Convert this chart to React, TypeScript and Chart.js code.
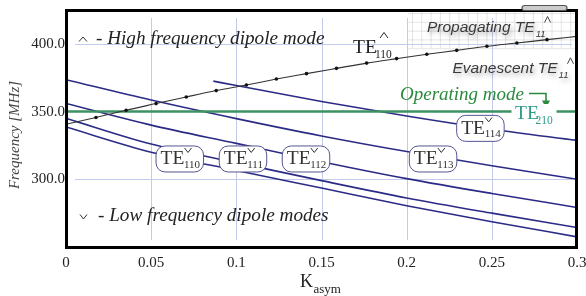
import React, { useEffect, useRef } from 'react';
import { Chart, registerables } from 'chart.js';
Chart.register(...registerables);

// ---- data ----
const kTicks = [0, 0.05, 0.1, 0.15, 0.2, 0.25, 0.3];
const freqTicks = [300, 350, 400];
const kSamples = [0, 0.05, 0.1, 0.15, 0.2, 0.25, 0.3];
const te113Low = [373.5, 358.5, 344.8, 332, 320.5, 310, 300];
const te112Low = [356, 340, 326.5, 313, 300.5, 289.5, 279.2];
const te110Low = [345, 326, 312.3, 299, 286.2, 275, 264.4];
const te111Low = [338.6, 320, 306.5, 293.5, 280.5, 268.7, 257.5];
const te114K = [0.0865, 0.1, 0.15, 0.2, 0.25, 0.3];
const te114Low = [372.5, 369.2, 357.5, 346.7, 337, 328.7];
const te110HighK = [0, 0.0176, 0.0353, 0.0529, 0.0706, 0.0882, 0.1059, 0.1235, 0.1412, 0.1588, 0.1765, 0.1941, 0.2118, 0.2294, 0.2471, 0.2647, 0.2824, 0.3];
const te110High = [340.6, 345.6, 351, 355.9, 360.8, 365.5, 369.6, 374, 378, 381.9, 385.8, 389.1, 392.3, 395.2, 398.2, 400.6, 403.1, 405.5];
const operatingFreq = 350;
const lowLabelSubs = ['110', '111', '112', '113', '114'];
const lowLabelK = [0.0668, 0.1039, 0.1409, 0.2155, 0.2433];
const lowLabelF = [315, 315, 315, 315, 337.6];

const serif = '"Liberation Serif", "Times New Roman", serif';
const sans = '"Liberation Sans", Arial, sans-serif';

const pts = (xs: number[], ys: number[]) => xs.map((x, i) => ({ x, y: ys[i] }));

function rr(ctx: CanvasRenderingContext2D, x: number, y: number, w: number, h: number, r: number) {
  ctx.beginPath();
  ctx.moveTo(x + r, y);
  ctx.lineTo(x + w - r, y);
  ctx.arcTo(x + w, y, x + w, y + r, r);
  ctx.lineTo(x + w, y + h - r);
  ctx.arcTo(x + w, y + h, x + w - r, y + h, r);
  ctx.lineTo(x + r, y + h);
  ctx.arcTo(x, y + h, x, y + h - r, r);
  ctx.lineTo(x, y + r);
  ctx.arcTo(x, y, x + r, y, r);
  ctx.closePath();
}

function caret(ctx: CanvasRenderingContext2D, cx: number, top: number, h: number, w: number, up: boolean, color: string, lw = 1) {
  ctx.save();
  ctx.beginPath();
  if (up) {
    ctx.moveTo(cx - w / 2, top + h); ctx.lineTo(cx, top); ctx.lineTo(cx + w / 2, top + h);
  } else {
    ctx.moveTo(cx - w / 2, top); ctx.lineTo(cx, top + h); ctx.lineTo(cx + w / 2, top);
  }
  ctx.strokeStyle = color; ctx.lineWidth = lw; ctx.stroke();
  ctx.restore();
}

const overlay = {
  id: 'overlay',
  beforeDatasetsDraw(chart: any) {
    const ctx: CanvasRenderingContext2D = chart.ctx;
    const xs = chart.scales.x, ys = chart.scales.y;
    const a = chart.chartArea;
    ctx.save();
    // top-right hatch grid
    ctx.strokeStyle = 'rgba(110,110,110,0.18)';
    ctx.lineWidth = 1;
    for (let x = 412.5; x < a.right; x += 9.3) {
      ctx.beginPath(); ctx.moveTo(x, a.top); ctx.lineTo(x, 48); ctx.stroke();
    }
    for (let y = 13.5; y < 49; y += 8.8) {
      ctx.beginPath(); ctx.moveTo(408, y); ctx.lineTo(a.right, y); ctx.stroke();
    }
    // grid
    ctx.strokeStyle = '#c4cae9';
    ctx.lineWidth = 1;
    kTicks.slice(1, -1).forEach((k) => {
      const px = Math.round(xs.getPixelForValue(k)) + 0.5;
      ctx.beginPath(); ctx.moveTo(px, 18); ctx.lineTo(px, 240); ctx.stroke();
    });
    [300, 400].forEach((f) => {
      const py = Math.round(ys.getPixelForValue(f)) + 0.5;
      ctx.beginPath(); ctx.moveTo(75, py); ctx.lineTo(572, py); ctx.stroke();
    });
    ctx.restore();
  },
  afterDatasetsDraw(chart: any) {
    const ctx: CanvasRenderingContext2D = chart.ctx;
    const xs = chart.scales.x, ys = chart.scales.y;
    const a = chart.chartArea;
    ctx.save();
    ctx.textAlign = 'left';
    ctx.textBaseline = 'alphabetic';

    // frame
    ctx.strokeStyle = '#000';
    ctx.lineWidth = 3;
    ctx.strokeRect(a.left + 0.5, a.top + 0.5, a.right - a.left - 1, a.bottom - a.top);
    // tab on top
    rr(ctx, 522, 5.5, 45, 5, 2.5);
    ctx.fillStyle = '#ccc'; ctx.fill();
    ctx.strokeStyle = '#555'; ctx.lineWidth = 1.2; ctx.stroke();

    // low-frequency mode boxes
    lowLabelSubs.forEach((sub, i) => {
      const cx = xs.getPixelForValue(lowLabelK[i]);
      const cy = ys.getPixelForValue(lowLabelF[i]);
      const w = 47.5, h = 26, L = cx - w / 2, T = cy - h / 2;
      rr(ctx, L, T, w, h, 9);
      ctx.fillStyle = '#fff'; ctx.fill();
      ctx.strokeStyle = '#55558f'; ctx.lineWidth = 1; ctx.stroke();
      ctx.fillStyle = '#333';
      ctx.font = `19.5px ${serif}`;
      ctx.fillText('TE', L + 4.5, T + 18.5);
      ctx.font = `11px ${serif}`;
      ctx.fillText(sub, L + 28, T + 22);
      caret(ctx, L + 32, T + 2, 4.5, 7, false, '#333', 1);
    });

    // high / low legend texts
    ctx.fillStyle = '#222';
    ctx.font = `italic 19.2px ${serif}`;
    ctx.fillText('- High frequency dipole mode', 96, 43.5);
    caret(ctx, 83, 37, 4.5, 8, true, '#333', 1);
    ctx.fillText('- Low frequency dipole modes', 98, 221);
    caret(ctx, 83.5, 214.5, 4.5, 7, false, '#333', 1);

    // TE110 high label
    ctx.fillStyle = '#222';
    ctx.font = `19.5px ${serif}`;
    ctx.fillText('TE', 353, 52.7);
    ctx.font = `11.5px ${serif}`;
    ctx.fillText('110', 375, 57.5);
    caret(ctx, 384, 32.5, 5.5, 8, true, '#222', 1);

    // Propagating / Evanescent
    const shadowText = (main: string, x: number, base: number) => {
      ctx.save();
      ctx.shadowColor = 'rgba(0,0,0,0.35)';
      ctx.shadowBlur = 5;
      ctx.shadowOffsetX = 2;
      ctx.shadowOffsetY = 3;
      ctx.fillStyle = '#3a3a3a';
      ctx.font = `italic 15.5px ${sans}`;
      ctx.fillText(main, x, base);
      const w = ctx.measureText(main).width;
      ctx.font = `italic 9.5px ${sans}`;
      ctx.fillText('11', x + w + 1, base + 4.5);
      const w2 = ctx.measureText('11').width;
      ctx.restore();
      caret(ctx, x + w + 1 + w2 + 2, base - 15.5, 6, 6, true, '#444', 1);
    };
    shadowText('Propagating TE', 427, 32);
    shadowText('Evanescent TE', 452.5, 73.3);

    // Operating mode
    const green = '#2b8a3d';
    ctx.fillStyle = green;
    ctx.font = `italic 19px ${serif}`;
    ctx.fillText('Operating mode', 400, 99.5);
    ctx.strokeStyle = green;
    ctx.lineWidth = 1.6;
    ctx.beginPath(); ctx.moveTo(529, 93.5); ctx.lineTo(546, 93.5); ctx.lineTo(546, 102); ctx.stroke();
    ctx.beginPath(); ctx.moveTo(542, 100.5); ctx.lineTo(550, 100.5); ctx.lineTo(546, 108); ctx.closePath();
    ctx.fillStyle = green; ctx.fill();

    // TE210
    ctx.fillStyle = '#fff';
    ctx.fillRect(511.5, 104, 45, 23);
    ctx.fillStyle = '#2e9a88';
    ctx.font = `19.5px ${serif}`;
    ctx.fillText('TE', 515, 119.3);
    ctx.font = `11.5px ${serif}`;
    ctx.fillText('210', 535.5, 123.5);

    // axis titles
    ctx.fillStyle = '#222';
    ctx.font = `18px ${serif}`;
    ctx.fillText('K', 300, 287);
    const kw = ctx.measureText('K').width;
    ctx.font = `13px ${serif}`;
    ctx.fillText('asym', 300 + kw + 0.5, 293);

    ctx.save();
    ctx.translate(15, 135);
    ctx.rotate(-Math.PI / 2);
    ctx.textAlign = 'center';
    ctx.textBaseline = 'middle';
    ctx.fillStyle = '#444';
    ctx.font = `italic 15px ${serif}`;
    ctx.fillText('Frequency [MHz]', 0, 0);
    ctx.restore();

    ctx.restore();
  },
};

export default function App() {
  const ref = useRef<HTMLCanvasElement | null>(null);
  useEffect(() => {
    if (!ref.current) return;
    const blue = '#2b2b86';
    const blueLine = (label: string, xs: number[], ys: number[]) => ({
      label,
      data: pts(xs, ys),
      borderColor: blue,
      borderWidth: 1.6,
      pointRadius: 0,
      cubicInterpolationMode: 'monotone' as const,
      fill: false,
    });
    const noPad = (s: any) => { s.paddingLeft = 0; s.paddingRight = 0; s.paddingTop = 0; s.paddingBottom = 0; };
    const chart = new Chart(ref.current, {
      type: 'line',
      data: {
        datasets: [
          {
            label: 'TE110 high',
            data: pts(te110HighK, te110High),
            borderColor: '#333',
            borderWidth: 1.1,
            pointRadius: 1.8,
            pointBackgroundColor: '#111',
            pointBorderWidth: 0,
            cubicInterpolationMode: 'monotone' as const,
            fill: false,
          },
          {
            label: 'Operating mode TE210',
            data: pts([0, 0.3], [operatingFreq, operatingFreq]),
            borderColor: '#3d9162',
            borderWidth: 2.6,
            pointRadius: 0,
            fill: false,
          },
          blueLine('TE113', kSamples, te113Low),
          blueLine('TE112', kSamples, te112Low),
          blueLine('TE110', kSamples, te110Low),
          blueLine('TE111', kSamples, te111Low),
          blueLine('TE114', te114K, te114Low),
        ],
      },
      options: {
        responsive: false,
        animation: false,
        devicePixelRatio: 1,
        layout: { autoPadding: false, padding: { top: 10, right: 9, left: 0, bottom: 0 } },
        plugins: { legend: { display: false }, tooltip: { enabled: false } },
        scales: {
          x: {
            type: 'linear',
            min: 0,
            max: 0.3,
            grid: { display: false, drawTicks: false },
            border: { display: false },
            afterBuildTicks: (s: any) => { s.ticks = kTicks.map((v) => ({ value: v })); },
            afterFit: (s: any) => { s.height = 49; noPad(s); },
            ticks: {
              padding: 7,
              color: '#222',
              font: { family: serif, size: 15 },
              maxRotation: 0,
              autoSkip: false,
              callback: (v: any) => String(Number(Number(v).toFixed(2))),
            },
          },
          y: {
            type: 'linear',
            min: 250,
            max: 425,
            grid: { display: false, drawTicks: false },
            border: { display: false },
            afterBuildTicks: (s: any) => { s.ticks = freqTicks.map((v) => ({ value: v })); },
            afterFit: (s: any) => { s.width = 66; noPad(s); },
            ticks: {
              padding: 1,
              color: '#222',
              font: { family: serif, size: 15 },
              callback: (v: any) => Number(v).toFixed(1),
            },
          },
        },
      },
      plugins: [overlay],
    });
    return () => chart.destroy();
  }, []);
  return (
    <div style={{ position: 'fixed', left: 0, top: 0, width: 586, height: 296, background: '#fff' }}>
      <canvas ref={ref} width={586} height={296} style={{ display: 'block' }} />
    </div>
  );
}
